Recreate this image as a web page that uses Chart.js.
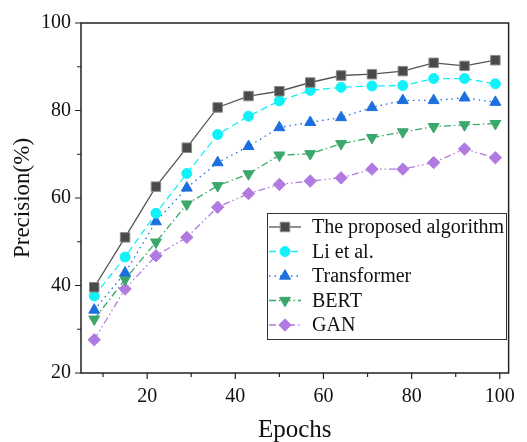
<!DOCTYPE html>
<html>
<head>
<meta charset="utf-8">
<script src="https://cdn.jsdelivr.net/npm/chart.js@4"></script>
<style>
  html, body { margin: 0; padding: 0; background: #fff; }
  #wrap { width: 527px; height: 442px; }
</style>
</head>
<body>
<div id="wrap"><canvas id="precisionCanvas" width="527" height="442"></canvas></div>
<script>
// data
var epochs = [8, 15, 22, 29, 36, 43, 50, 57, 64, 71, 78, 85, 92, 99];
var proposed    = [39.6, 51.0, 62.6, 71.5, 80.7, 83.3, 84.4, 86.4, 88.0, 88.3, 89.0, 90.9, 90.2, 91.5];
var liEtAl      = [37.6, 46.5, 56.5, 65.6, 74.5, 78.7, 82.2, 84.6, 85.3, 85.6, 85.7, 87.3, 87.3, 86.1];
var transformer = [34.4, 42.9, 54.6, 62.3, 68.1, 71.8, 76.1, 77.3, 78.4, 80.7, 82.3, 82.3, 82.9, 81.9];
var bert        = [32.3, 41.4, 49.9, 58.6, 62.8, 65.5, 69.8, 70.1, 72.4, 73.8, 75.1, 76.3, 76.7, 77.0];
var gan         = [27.6, 39.2, 46.8, 51.0, 57.9, 61.0, 63.1, 63.9, 64.6, 66.6, 66.6, 68.1, 71.2, 69.2];
var seriesNames = ["The proposed algorithm", "Li et al.", "Transformer", "BERT", "GAN"];
var xTicks = [20, 40, 60, 80, 100];
var yTicks = [20, 40, 60, 80, 100];

var serif = "'Liberation Serif', 'Times New Roman', serif";

function toPoints(vals) {
    return vals.map(function (v, i) { return { x: epochs[i], y: v }; });
}

function makeSet(label, vals, line, fill, edge, style, radius, dash, rot) {
    return {
        label: label,
        data: toPoints(vals),
        borderColor: line,
        borderWidth: 1.3,
        borderDash: dash,
        pointStyle: style,
        pointRotation: rot || 0,
        pointRadius: radius,
        pointBackgroundColor: fill,
        pointBorderColor: edge,
        pointBorderWidth: 1,
        fill: false,
        tension: 0
    };
}

var datasets = [
    makeSet(seriesNames[0], proposed, "#555555", "#4a4a4a", "#8a8a8a", "rect", 6.7, []),
    makeSet(seriesNames[1], liEtAl, "#16eef4", "#10f2f7", "#10f2f7", "circle", 5, [7, 4]),
    makeSet(seriesNames[2], transformer, "#1b6fdf", "#1b6fdf", "#1b6fdf", "triangle", 6.3, [1.5, 4]),
    makeSet(seriesNames[3], bert, "#3aa86a", "#3aa86a", "#3aa86a", "triangle", 6.3, [7, 3, 1.5, 3], 180),
    makeSet(seriesNames[4], gan, "#b07ae0", "#b07ae0", "#b07ae0", "rectRot", 6.2, [7, 3, 1.5, 3, 1.5, 3])
];

// frame, tick marks and legend box
var framePlugin = {
    id: "frame",
    afterDraw: function (chart) {
        var ctx = chart.ctx, a = chart.chartArea;
        var xs = chart.scales.x, ys = chart.scales.y;
        ctx.save();
        ctx.strokeStyle = "#222";
        ctx.lineWidth = 1.5;
        ctx.strokeRect(a.left, a.top, a.right - a.left, a.bottom - a.top);
        ctx.lineWidth = 1.2;
        ctx.beginPath();
        for (var v = 10; v <= 100; v += 10) {
            var px = xs.getPixelForValue(v);
            var len = (v % 20 === 0) ? 6 : 4;
            ctx.moveTo(px, a.bottom);
            ctx.lineTo(px, a.bottom + len);
        }
        for (var w = 20; w <= 100; w += 10) {
            var py = ys.getPixelForValue(w);
            var l2 = (w % 20 === 0) ? 6 : 4;
            ctx.moveTo(a.left, py);
            ctx.lineTo(a.left - l2, py);
        }
        ctx.stroke();

        // legend
        var bx = 267, by = 213, bw = 239, bh = 126;
        ctx.fillStyle = "#fff";
        ctx.fillRect(bx, by, bw, bh);
        ctx.strokeStyle = "#333";
        ctx.lineWidth = 1;
        ctx.strokeRect(bx + 0.5, by + 0.5, bw, bh);
        ctx.font = "20px " + serif;
        ctx.textBaseline = "middle";
        chart.data.datasets.forEach(function (ds, i) {
            var ry = 227 + i * 24.5;
            ctx.save();
            ctx.strokeStyle = ds.borderColor;
            ctx.lineWidth = ds.borderWidth;
            ctx.setLineDash(ds.borderDash);
            ctx.beginPath();
            ctx.moveTo(bx + 2, ry);
            ctx.lineTo(bx + 34, ry);
            ctx.stroke();
            ctx.setLineDash([]);
            ctx.fillStyle = ds.pointBackgroundColor;
            ctx.strokeStyle = ds.pointBorderColor;
            ctx.lineWidth = 1;
            Chart.helpers.drawPoint(ctx, {
                pointStyle: ds.pointStyle,
                rotation: ds.pointRotation,
                radius: ds.pointRadius,
                borderWidth: 1
            }, bx + 18, ry);
            ctx.restore();
            ctx.fillStyle = "#111";
            ctx.fillText(ds.label, bx + 45, ry + 1);
        });
        ctx.restore();
    }
};

var canvas = document.getElementById("precisionCanvas");
var precisionChart = new Chart(canvas, {
    type: "line",
    data: { datasets: datasets },
    options: {
        responsive: false,
        animation: false,
        layout: { padding: { top: 23, right: 10, left: 0, bottom: 0 } },
        plugins: {
            legend: { display: false },
            tooltip: { enabled: false }
        },
        scales: {
            x: {
                type: "linear",
                min: 5,
                max: 102,
                afterFit: function (scale) { scale.height = 69; },
                afterBuildTicks: function (scale) {
                    scale.ticks = xTicks.map(function (v) { return { value: v }; });
                },
                grid: { display: false, drawTicks: false },
                border: { display: false },
                ticks: {
                    padding: 12,
                    color: "#111",
                    font: { family: serif, size: 20 }
                },
                title: {
                    display: true,
                    text: "Epochs",
                    color: "#111",
                    font: { family: serif, size: 25, lineHeight: 1 },
                    padding: { top: 0, bottom: -1 }
                }
            },
            y: {
                type: "linear",
                min: 20,
                max: 100,
                afterFit: function (scale) { scale.width = 81; },
                afterBuildTicks: function (scale) {
                    scale.ticks = yTicks.map(function (v) { return { value: v }; });
                },
                grid: { display: false, drawTicks: false },
                border: { display: false },
                ticks: {
                    padding: 10,
                    color: "#111",
                    font: { family: serif, size: 20 }
                },
                title: {
                    display: true,
                    text: "Precision(%)",
                    color: "#111",
                    font: { family: serif, size: 23 },
                    padding: { top: 9, bottom: 0 }
                }
            }
        }
    },
    plugins: [framePlugin]
});
</script>
</body>
</html>
